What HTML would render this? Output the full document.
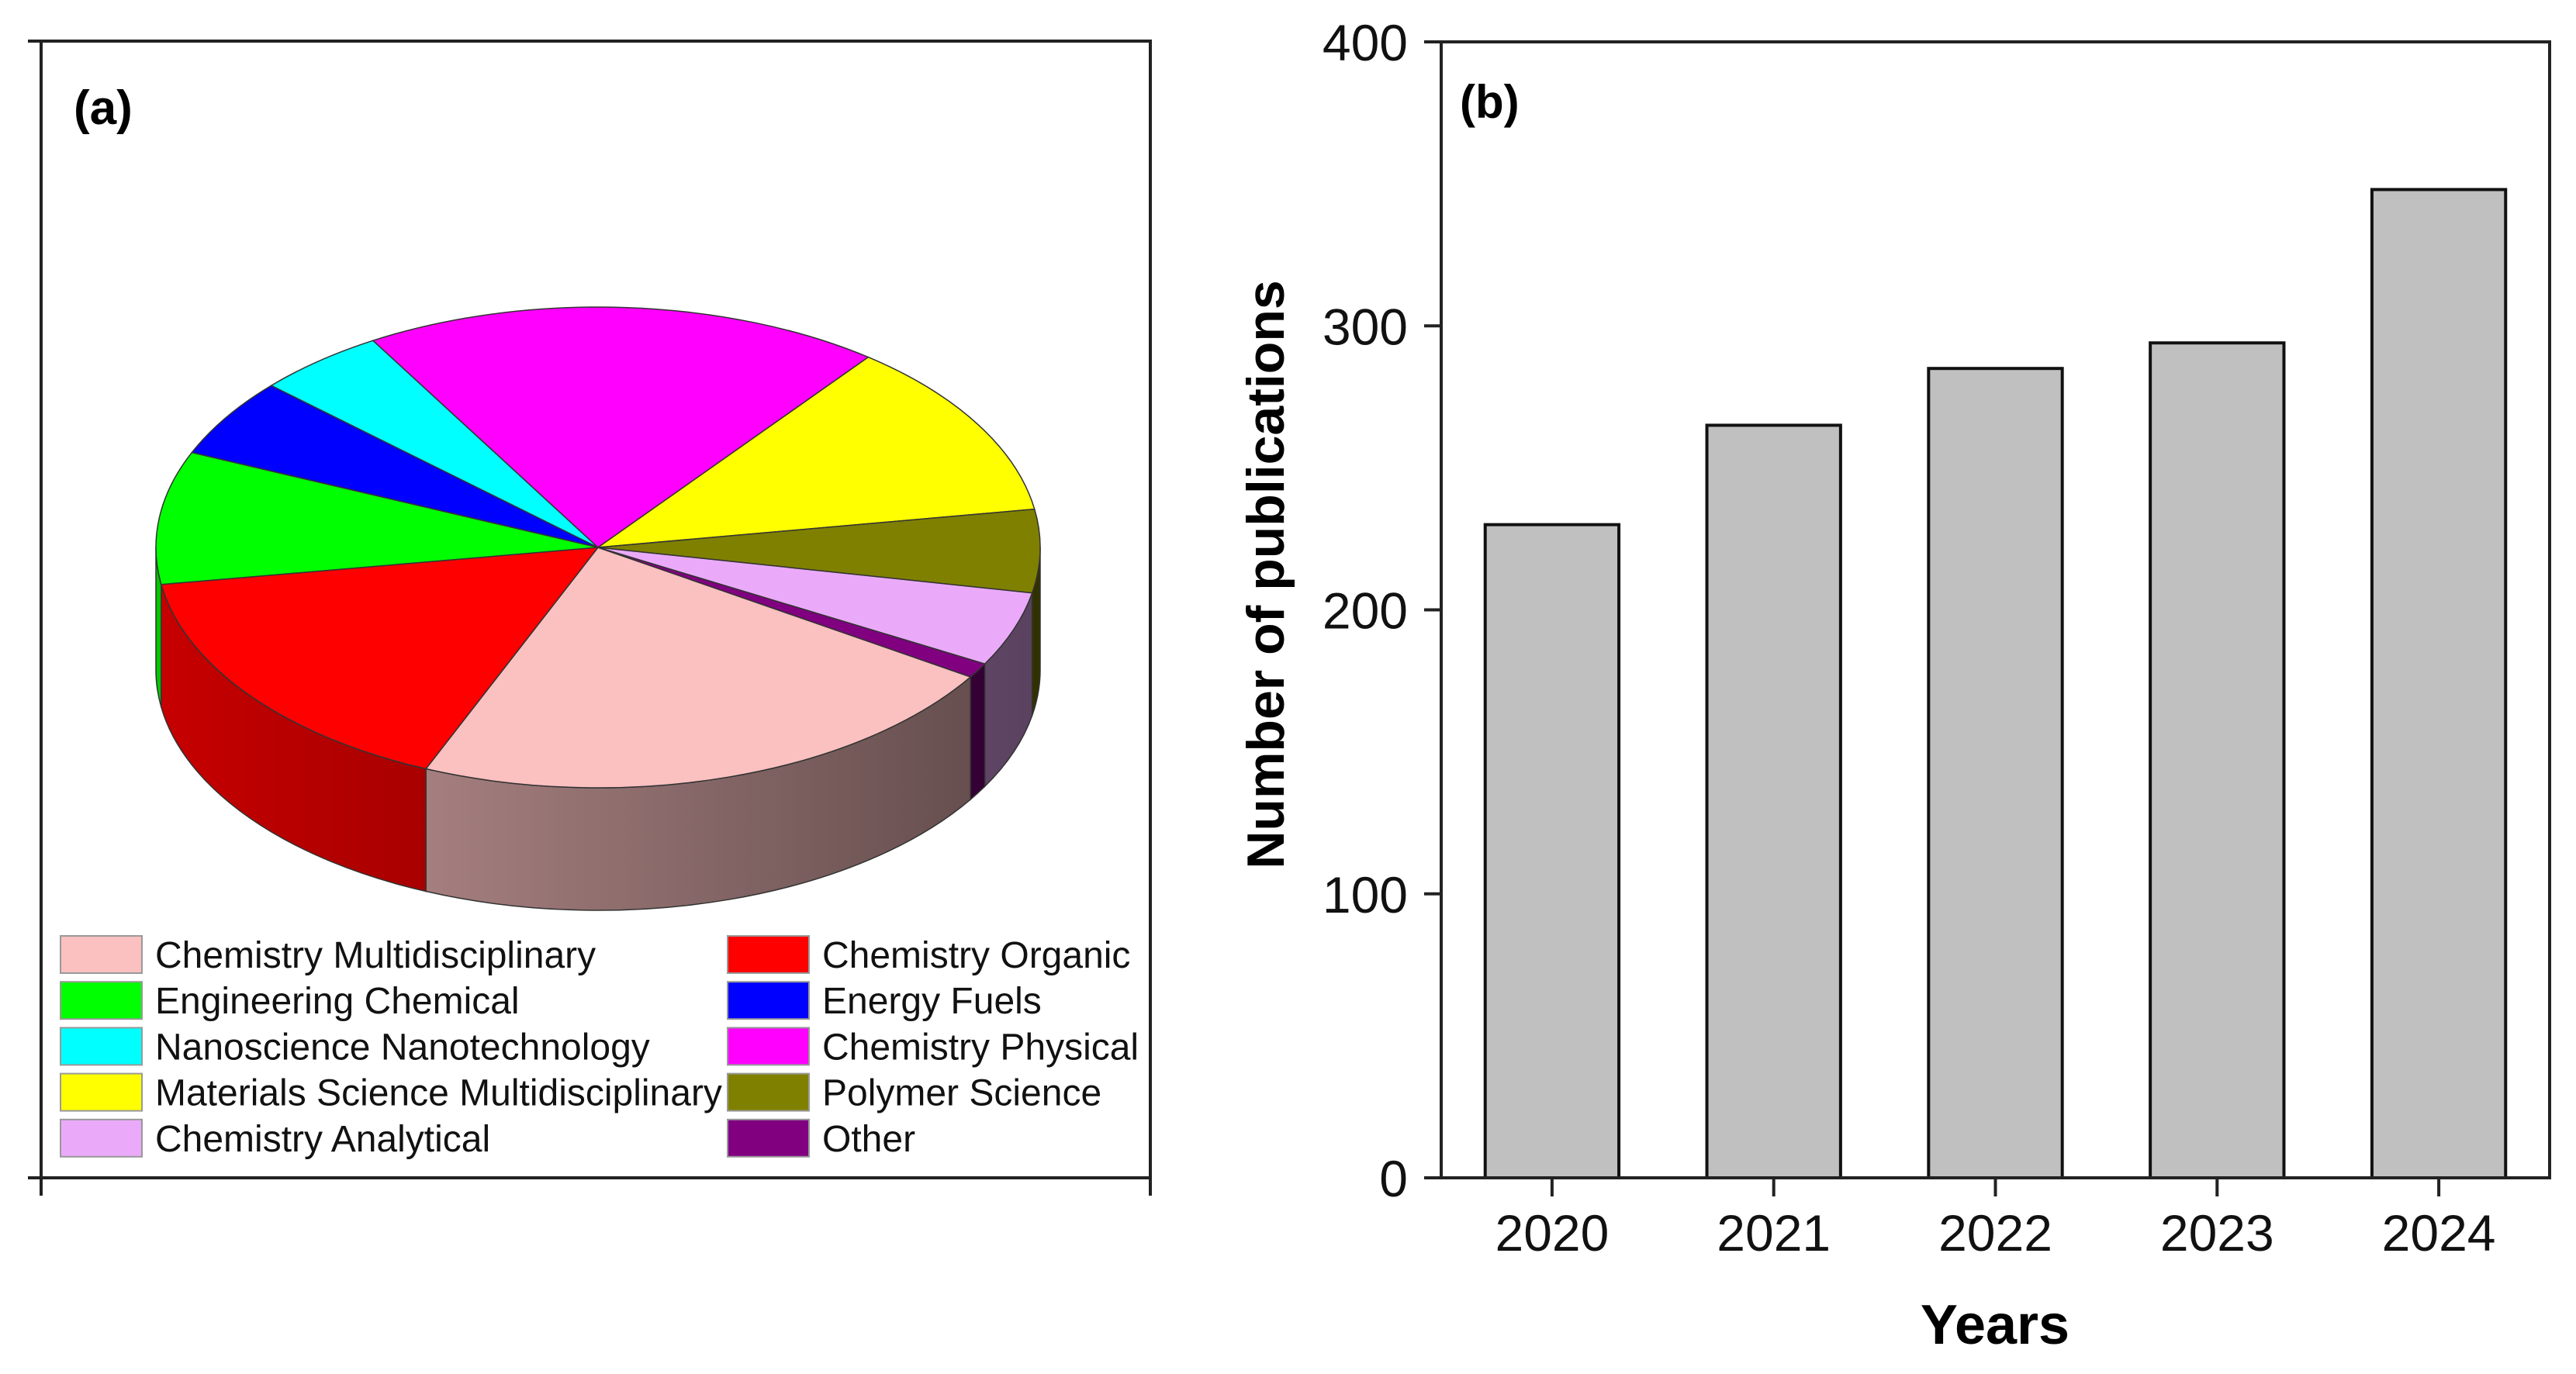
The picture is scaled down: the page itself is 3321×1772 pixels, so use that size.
<!DOCTYPE html>
<html><head><meta charset="utf-8"><style>
html,body{margin:0;padding:0;background:#fff}
svg{display:block;font-family:"Liberation Sans",Arial,sans-serif}
</style></head><body>
<svg id="fig" width="3321" height="1772" viewBox="0 0 3321 1772" xmlns="http://www.w3.org/2000/svg">
<defs id="defs"></defs>
<g id="panelA">
  <g stroke="#222" stroke-width="4" fill="none">
    <line x1="36" y1="53" x2="1485" y2="53"/>
    <line x1="53" y1="51" x2="53" y2="1542"/>
    <line x1="1483" y1="51" x2="1483" y2="1542"/>
    <line x1="36" y1="1519" x2="1485" y2="1519"/>
  </g>
  <text x="95" y="160" font-size="62" font-weight="bold">(a)</text>
  <g id="pie"></g>
  <g id="legend"></g>
</g>
<g id="panelB">
  <g id="bars"></g>
  <rect x="1858" y="54" width="1429" height="1465" fill="none" stroke="#222" stroke-width="4"/>
  <g id="axes"></g>
  <text x="1882" y="152" font-size="60" font-weight="bold">(b)</text>
  <text transform="translate(1655,741) rotate(-90)" text-anchor="middle" font-size="68" font-weight="bold">Number of publications</text>
  <text x="2572" y="1733" text-anchor="middle" font-size="72" font-weight="bold">Years</text>
</g>
</svg>
<script>
const NS="http://www.w3.org/2000/svg";
// Pie data (share units), clockwise starting at 32.6deg
const pieCategories=["Chemistry Multidisciplinary","Chemistry Organic","Engineering Chemical","Energy Fuels","Nanoscience Nanotechnology","Chemistry Physical","Materials Science Multidisciplinary","Polymer Science","Chemistry Analytical","Other"];
const pieValues=[80,58,32,19,17,68,43,20,18,3.6];
const pieColors=["#fbc0c0","#ff0000","#00ff00","#0000ff","#00ffff","#ff00ff","#ffff00","#808000","#eaaaf9","#800080"];
const legendOrder=[0,1,2,3,4,5,6,7,8,9];
// Bar data
const years=["2020","2021","2022","2023","2024"];
const pubs=[230,265,285,294,348];
const yTicks=[0,100,200,300,400];

const defs=document.getElementById('defs');
function mk(tag,attrs,parent){const e=document.createElementNS(NS,tag);for(const k in attrs)e.setAttribute(k,attrs[k]);parent.appendChild(e);return e;}
function shade(hex,f){const n=parseInt(hex.slice(1),16);const r=Math.round(((n>>16)&255)*f),g=Math.round(((n>>8)&255)*f),b=Math.round((n&255)*f);return `rgb(${r},${g},${b})`;}

// ---- Pie ----
const cx=771,cy=706,rx=570,ry=310,depth=158,startDeg=32.6;
const pie=document.getElementById('pie');
const total=pieValues.reduce((a,b)=>a+b,0);
function pt(deg,dy){const t=deg*Math.PI/180;return [cx+rx*Math.cos(t),cy+ry*Math.sin(t)+(dy||0)];}
let angs=[];let a=startDeg;
pieValues.forEach(v=>{const s=v/total*360;angs.push([a,a+s]);a+=s;});
pieValues.forEach((v,i)=>{
  let [a1,a2]=angs[i];
  [-360,0,360].forEach(off=>{
    const s=Math.max(a1+off,0),e=Math.min(a2+off,180);
    if(e>s){
      const gid='g'+i+'_'+(off+360);
      const lg=mk('linearGradient',{id:gid,gradientUnits:'userSpaceOnUse',x1:cx-rx,y1:0,x2:cx+rx,y2:0},defs);
      mk('stop',{offset:'0',"stop-color":shade(pieColors[i],0.78)},lg);
      mk('stop',{offset:'1',"stop-color":shade(pieColors[i],0.38)},lg);
      const p1=pt(s),p2=pt(e),p3=pt(e,depth),p4=pt(s,depth);
      const large=(e-s)>180?1:0;
      const el=mk('path',{d:`M${p1[0]},${p1[1]} A${rx},${ry} 0 ${large} 1 ${p2[0]},${p2[1]} L${p3[0]},${p3[1]} A${rx},${ry} 0 ${large} 0 ${p4[0]},${p4[1]} Z`,fill:`url(#${gid})`,stroke:'#333','stroke-width':1.5},pie);
      
      
    }
  });
});
pieValues.forEach((v,i)=>{
  const [a1,a2]=angs[i];const p1=pt(a1),p2=pt(a2);const large=(a2-a1)>180?1:0;
  const el=mk('path',{d:`M${cx},${cy} L${p1[0]},${p1[1]} A${rx},${ry} 0 ${large} 1 ${p2[0]},${p2[1]} Z`,fill:pieColors[i],stroke:'#333','stroke-width':1.5},pie);
  
  
});
const legend=document.getElementById('legend');
legendOrder.forEach((idx,k)=>{
  const col=k%2,row=Math.floor(k/2);
  const sx=col?938:78,ty=1231+row*59.2;
  const r=mk('rect',{x:sx,y:ty-24,width:105,height:48,fill:pieColors[idx],stroke:'#999','stroke-width':2},legend);
  
  
  const t=mk('text',{x:sx+122,y:ty+17,'font-size':48,fill:'#111'},legend);
  t.textContent=pieCategories[idx];
  
  
});

// ---- Bars ----
const X0=1858,X1=3287,Y0=1519,Y1=54,ymax=400;
const band=(X1-X0)/years.length;
function xc(i){return X0+band*(i+0.5);}
function ys(v){return Y0-(v/ymax)*(Y0-Y1);}
const bars=document.getElementById('bars'),axes=document.getElementById('axes');
const bw=band*0.603;
pubs.forEach((v,i)=>{
  const r=mk('rect',{x:xc(i)-bw/2,y:ys(v),width:bw,height:Y0-ys(v),fill:'#c0c0c0',stroke:'#111','stroke-width':4},bars);
  
  
});
yTicks.forEach(t=>{
  const l=mk('line',{x1:X0-22,x2:X0,y1:ys(t),y2:ys(t),stroke:'#222','stroke-width':4},axes);
  
  
  const tx=mk('text',{x:1815,y:ys(t)+24,'text-anchor':'end','font-size':66,fill:'#111'},axes);
  tx.textContent=t;
  
  
});
years.forEach((y,i)=>{
  const l=mk('line',{x1:xc(i),x2:xc(i),y1:Y0,y2:Y0+24,stroke:'#222','stroke-width':4},axes);
  
  
  const tx=mk('text',{x:xc(i),y:1613,'text-anchor':'middle','font-size':66,fill:'#111'},axes);
  tx.textContent=y;
  
  
});
</script>
</body></html>
